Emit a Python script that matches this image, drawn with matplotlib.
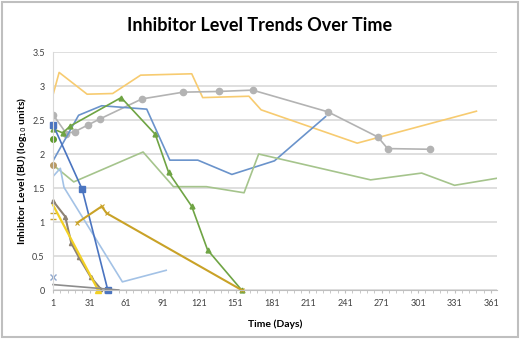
import numpy as np
import matplotlib
matplotlib.use("Agg")
import matplotlib.pyplot as plt
from matplotlib.patches import Rectangle

plt.rcParams['font.family'] = ['Lato', 'DejaVu Sans']

# ---- data (day, log10 BU) ----
gray_days = [1, 12, 19, 30, 40, 74, 108, 137, 165, 227, 268, 276, 311]
gray_vals = [2.58, 2.30, 2.33, 2.43, 2.52, 2.81, 2.91, 2.92, 2.94, 2.62, 2.25, 2.08, 2.07]

gold_light_days = [1, 6, 29, 50, 73, 115, 124, 162, 172, 251, 349]
gold_light_vals = [2.87, 3.20, 2.88, 2.89, 3.16, 3.18, 2.83, 2.85, 2.65, 2.16, 2.63]

blue_days = [1, 22, 41, 78, 97, 120, 148, 183, 225]
blue_vals = [1.90, 2.57, 2.71, 2.66, 1.91, 1.91, 1.70, 1.90, 2.55]

sq_days = [1, 25, 46]
sq_vals = [2.43, 1.48, 0.0]

green_days = [1, 9, 15, 57, 85, 96, 115, 128, 156]
green_vals = [2.37, 2.31, 2.41, 2.83, 2.29, 1.73, 1.23, 0.59, 0.0]

lgreen_days = [1, 18, 75, 100, 127, 158, 170, 262, 304, 331, 368]
lgreen_vals = [1.84, 1.59, 2.03, 1.52, 1.52, 1.43, 2.00, 1.62, 1.72, 1.54, 1.65]

lblue_days = [1, 7, 10, 58, 94]
lblue_vals = [1.67, 1.79, 1.51, 0.12, 0.29]

gold_days = [21, 41, 45, 156]
gold_vals = [0.99, 1.23, 1.13, 0.0]

brown_days = [1, 11, 16, 22, 32, 40]
brown_vals = [1.31, 1.08, 0.69, 0.49, 0.19, 0.02]

yellow_days = [1, 38]
yellow_vals = [1.25, 0.0]

dgray_days = [1, 55]
dgray_vals = [0.08, 0.0]

# single measurements at day 1
single_days = [1, 1, 1, 1, 1]
single_vals = [2.22, 1.84, 1.14, 1.05, 0.19]
single_marks = ['o', 'o', '_', '_', 'x']
single_cols = ['#5E9A2E', '#B89A66', '#C9A227', '#C9A227', '#8FA7CC']

x_ticks = list(range(1, 362, 30))
y_ticks = [0, 0.5, 1, 1.5, 2, 2.5, 3, 3.5]

# ---- figure ----
fig = plt.figure(figsize=(5.2, 3.39), dpi=100)
ax = fig.add_axes([0.102, 0.1445, 0.854, 0.702])

lw = 1.2
ax.plot(gold_light_days, gold_light_vals, color='#F7CB70', lw=lw)
ax.plot(gray_days, gray_vals, color='#B3B3B3', lw=lw, marker='o', ms=4.5)
ax.plot(blue_days, blue_vals, color='#6A93CB', lw=lw)
ax.plot(lgreen_days, lgreen_vals, color='#A5C48C', lw=lw)
ax.plot(lblue_days, lblue_vals, color='#A3C2E6', lw=lw)
ax.plot(green_days, green_vals, color='#6FA444', lw=lw, marker='^', ms=3.5, clip_on=False)
ax.plot(sq_days, sq_vals, color='#4A74C0', lw=lw, marker='s', ms=4, clip_on=False)
ax.plot(gold_days, gold_vals, color='#C9A227', lw=lw + 0.3, marker='x', ms=2.2, mew=0.8, clip_on=False)
ax.plot(brown_days, brown_vals, color='#8E8374', lw=lw + 0.3, marker='^', ms=3, clip_on=False)
ax.plot(yellow_days, yellow_vals, color='#F2D024', lw=lw + 0.4, clip_on=False)
ax.plot(yellow_days[-1:], yellow_vals[-1:], color='#F2D024', marker='^', ms=4, clip_on=False)
ax.plot(dgray_days, dgray_vals, color='#8C8C8C', lw=lw, clip_on=False)
for d, v, m, c in zip(single_days, single_vals, single_marks, single_cols):
    ax.plot([d], [v], marker=m, color=c, ms=4, mew=1.0, linestyle='none', clip_on=False)

ax.set_xlim(1, 366)
ax.set_ylim(0, 3.5)
ax.set_xticks(x_ticks)
ax.set_xticks(range(1, 367, 6), minor=True)
ax.set_yticks(y_ticks)
ax.set_yticklabels(['0', '0.5', '1', '1.5', '2', '2.5', '3', '3.5'])
ax.tick_params(axis='y', length=0, labelsize=6.5, labelcolor='#404040', pad=6)
ax.tick_params(axis='x', which='both', direction='out', length=2.5, color='#BFBFBF',
               labelsize=6.5, labelcolor='#404040', pad=4)
ax.grid(axis='y', color='#D9D9D9', lw=1.2)
ax.set_axisbelow(True)
for s in ['top', 'right']:
    ax.spines[s].set_visible(False)
ax.spines['left'].set_color('#D9D9D9')
ax.spines['bottom'].set_color('#BFBFBF')

ax.set_xlabel('Time (Days)', fontsize=7.5, fontweight='bold', labelpad=8)
ax.set_ylabel('Inhibitor Level (BU) (log$_{10}$ units)', fontsize=7.5,
              fontweight='bold', labelpad=2)
fig.text(0.5, 0.925, 'Inhibitor Level Trends Over Time', ha='center', va='center',
         fontsize=13, fontweight='bold')

fig.patches.append(Rectangle((0.004, 0.006), 0.992, 0.988, transform=fig.transFigure,
                             fill=False, edgecolor='#BFBFBF', lw=1.5))

plt.savefig('out.png', dpi=100)
